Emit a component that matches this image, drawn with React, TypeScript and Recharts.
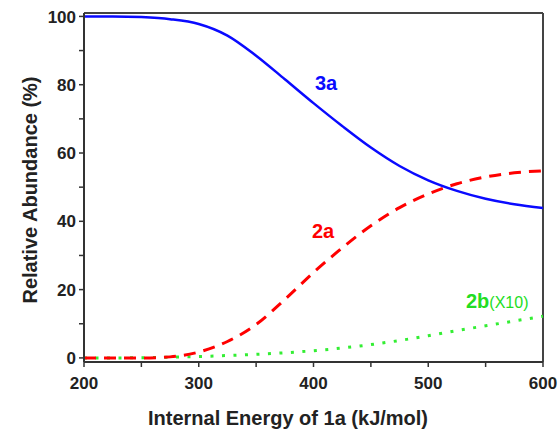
import React from "react";
import {
  LineChart,
  Line,
  XAxis,
  YAxis,
  ReferenceLine,
} from "recharts";

const ENERGY = [200, 225, 250, 275, 300, 325, 350, 375, 400, 425, 450, 475, 500, 525, 550, 575, 600];
const ABUND_3A = [100, 100, 99.8, 99.2, 97.8, 94.4, 88.5, 81.6, 74.6, 67.9, 61.6, 56.2, 52, 48.9, 46.6, 45, 43.9];
const ABUND_2A = [0, 0, 0, 0.3, 1.7, 4.8, 9.8, 17.1, 25, 32.2, 38.7, 44, 48, 51, 53, 54.2, 54.8];
// 2b is drawn ten times larger, as in the original figure
const ABUND_2B_X10 = [0, 0, 0.05, 0.2, 0.4, 0.7, 1.05, 1.5, 2.1, 2.9, 3.9, 5.1, 6.5, 8, 9.4, 10.8, 12.2];

const X_TICKS = [200, 250, 300, 350, 400, 450, 500, 550, 600];
const Y_TICKS = [0, 10, 20, 30, 40, 50, 60, 70, 80, 90, 100];

const data = ENERGY.map((e, i) => ({
  e,
  a3: ABUND_3A[i],
  a2: ABUND_2A[i],
  b2: ABUND_2B_X10[i],
}));

const FONT = "'Liberation Sans', Arial, sans-serif";
const AXIS = "#333";

const XTick = (props: any) => {
  const { x, y, payload } = props;
  if (payload.value % 100 !== 0) return null;
  return (
    <text x={x} y={y} dy="0.71em" textAnchor="middle" fontFamily={FONT} fontWeight="bold" fontSize={17} fill="#222">
      {payload.value}
    </text>
  );
};

const YTick = (props: any) => {
  const { x, y, payload } = props;
  if (payload.value % 20 !== 0) return null;
  return (
    <text x={x} y={y} dy="0.36em" textAnchor="end" fontFamily={FONT} fontWeight="bold" fontSize={17} fill="#222">
      {payload.value}
    </text>
  );
};

export default function App() {
  return (
    <div style={{ position: "absolute", left: 0, top: 0, width: 558, height: 429, background: "#fff" }}>
      <LineChart
        width={558}
        height={429}
        data={data}
        margin={{ top: 13, right: 15, bottom: 0, left: 24 }}
      >
        <XAxis
          dataKey="e"
          type="number"
          domain={[200, 600]}
          ticks={X_TICKS}
          interval={0}
          height={67}
          tickSize={5}
          tickMargin={10}
          tick={<XTick />}
          axisLine={{ stroke: AXIS, strokeWidth: 2 }}
          tickLine={{ stroke: AXIS, strokeWidth: 1.5 }}
        />
        <YAxis
          type="number"
          domain={[-1.2, 101]}
          ticks={Y_TICKS}
          interval={0}
          width={60}
          tickSize={5}
          tickMargin={3}
          tick={<YTick />}
          axisLine={{ stroke: AXIS, strokeWidth: 2 }}
          tickLine={{ stroke: AXIS, strokeWidth: 1.5 }}
        />
        {/* frame on top and right */}
        <ReferenceLine y={101} stroke="#444" strokeWidth={2} />
        <ReferenceLine x={600} stroke="#444" strokeWidth={2} />
        <Line
          dataKey="b2"
          type="monotone"
          stroke="#33ee33"
          strokeWidth={3}
          strokeDasharray="3 8.5"
          dot={false}
          isAnimationActive={false}
        />
        <Line
          dataKey="a2"
          type="monotone"
          stroke="#ff0000"
          strokeWidth={3}
          strokeDasharray="12 8"
          dot={false}
          isAnimationActive={false}
        />
        <Line
          dataKey="a3"
          type="monotone"
          stroke="#0a0aff"
          strokeWidth={2.5}
          dot={false}
          isAnimationActive={false}
        />
      </LineChart>
      <svg width={558} height={429} style={{ position: "absolute", left: 0, top: 0, pointerEvents: "none" }}>
        <text x={315} y={90} fontFamily={FONT} fontWeight="bold" fontSize={20} fill="#0a0aff">3a</text>
        <text x={312} y={238} fontFamily={FONT} fontWeight="bold" fontSize={20} fill="#ff0000">2a</text>
        <text x={466} y={308} fontFamily={FONT} fontWeight="bold" fontSize={20} fill="#22dd22">
          2b<tspan fontWeight="normal" fontSize={16}>(X10)</tspan>
        </text>
        <text x={288} y={425} textAnchor="middle" fontFamily={FONT} fontWeight="bold" fontSize={20} fill="#222">
          Internal Energy of 1a (kJ/mol)
        </text>
        <text
          x={37}
          y={190}
          textAnchor="middle"
          transform="rotate(-90 37 190)"
          fontFamily={FONT}
          fontWeight="bold"
          fontSize={20}
          fill="#222"
        >
          Relative Abundance (%)
        </text>
      </svg>
    </div>
  );
}
